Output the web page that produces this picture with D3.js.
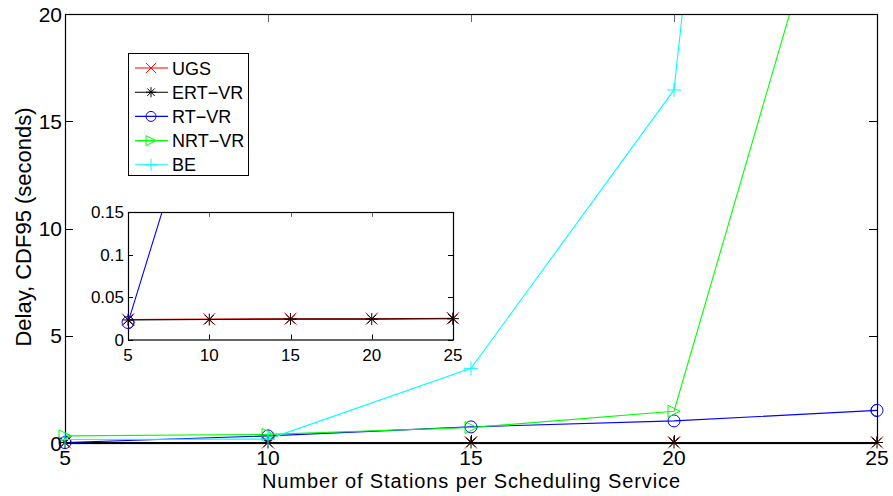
<!DOCTYPE html>
<html>
<head>
<meta charset="utf-8">
<script src="https://cdn.jsdelivr.net/npm/d3@7"></script>
<style>
  html, body { margin: 0; padding: 0; background: #fff; }
  svg { display: block; font-family: "Liberation Sans", Arial, Helvetica, sans-serif; }
</style>
</head>
<body>
<svg id="chart" width="893" height="496"></svg>
<script>
// Stations per scheduling service
const stations = [5, 10, 15, 20, 25];

// 95th percentile delay (seconds) per service class
const ugs   = [0.0235, 0.024, 0.0245, 0.0245, 0.025];
const ertvr = [0.0230, 0.0235, 0.024, 0.024, 0.0245];
const rtvr  = [0.020, 0.33, 0.75, 1.03, 1.52];
const nrtvr = [0.33, 0.40, 0.72, 1.48, 34];
const be    = [0.16, 0.18, 3.48, 16.46, 103];

const seriesNames = ["UGS", "ERT-VR", "RT-VR", "NRT-VR", "BE"];
const seriesValues = [ugs, ertvr, rtvr, nrtvr, be];
const seriesColors = ["#ff0000", "#000000", "#0000ff", "#00ff00", "#00ffff"];
const seriesMarkers = ["x", "star", "circle", "triangle", "plus"];

const mainYTicks = [0, 5, 10, 15, 20];
const insetYTicks = [0, 0.05, 0.1, 0.15];
const insetSeries = [0, 1, 2]; // classes shown in the zoomed panel

const svg = d3.select("#chart");

function drawMarker(g, type, x, y, color, s) {
  if (type === "circle") {
    g.append("circle").attr("cx", x).attr("cy", y).attr("r", s)
      .attr("fill", "none").attr("stroke", color).attr("stroke-width", 1);
    return;
  }
  let d = "";
  if (type === "x") {
    d = `M${x-s},${y-s}L${x+s},${y+s}M${x-s},${y+s}L${x+s},${y-s}`;
  } else if (type === "plus") {
    d = `M${x-s-1},${y}L${x+s+1},${y}M${x},${y-s-1}L${x},${y+s+1}`;
  } else if (type === "star") {
    const t = s * 0.75;
    d = `M${x-s},${y}L${x+s},${y}M${x},${y-s}L${x},${y+s}M${x-t},${y-t}L${x+t},${y+t}M${x-t},${y+t}L${x+t},${y-t}`;
  } else if (type === "triangle") {
    d = `M${x-s},${y-s}L${x+s},${y}L${x-s},${y+s}Z`;
  }
  g.append("path").attr("d", d).attr("fill", "none").attr("stroke", color).attr("stroke-width", 1);
}

function drawPanel(opts) {
  const { left, top, width, height, xDomain, yDomain, yTicks, xTicks, fontSize, tickLen,
          indices, markerSize, id, xLabelDy, yLabelDx } = opts;
  const x = d3.scaleLinear().domain(xDomain).range([left, left + width]);
  const y = d3.scaleLinear().domain(yDomain).range([top + height, top]);

  const g = svg.append("g");
  g.append("rect").attr("x", left).attr("y", top).attr("width", width).attr("height", height)
    .attr("fill", "#fff");

  g.append("clipPath").attr("id", id).append("rect")
    .attr("x", left).attr("y", top).attr("width", width).attr("height", height);

  // ticks on all four sides, pointing inward
  const tg = g.append("g").attr("stroke", "#000").attr("stroke-width", 1);
  xTicks.forEach(v => {
    const px = Math.round(x(v)) + 0.5;
    tg.append("line").attr("x1", px).attr("x2", px).attr("y1", top + height).attr("y2", top + height - tickLen);
    tg.append("line").attr("x1", px).attr("x2", px).attr("y1", top).attr("y2", top + tickLen).attr("stroke", "#666");
  });
  yTicks.forEach(v => {
    const py = Math.round(y(v)) + 0.5;
    tg.append("line").attr("x1", left).attr("x2", left + tickLen).attr("y1", py).attr("y2", py);
    tg.append("line").attr("x1", left + width).attr("x2", left + width - tickLen).attr("y1", py).attr("y2", py);
  });

  // data lines and markers
  const plot = g.append("g").attr("clip-path", `url(#${id})`);
  const line = d3.line().x((d, i) => x(stations[i])).y(d => y(d));
  indices.forEach(k => {
    plot.append("path").datum(seriesValues[k]).attr("d", line)
      .attr("fill", "none").attr("stroke", seriesColors[k]).attr("stroke-width", 1.1);
  });
  indices.forEach(k => {
    seriesValues[k].forEach((v, i) => {
      const px = x(stations[i]), py = y(v);
      if (py >= top - 1 && py <= top + height + 1) drawMarker(plot, seriesMarkers[k], px, py, seriesColors[k], markerSize);
    });
  });
  g.append("rect").attr("x", left + 0.5).attr("y", top + 0.5).attr("width", width).attr("height", height)
    .attr("fill", "none").attr("stroke", "#000").attr("stroke-width", 1.2);
  // markers sitting on the frame are drawn whole, over the border
  indices.forEach(k => {
    seriesValues[k].forEach((v, i) => {
      const px = x(stations[i]), py = y(v);
      const onEdge = i === 0 || i === stations.length - 1 || py > top + height - markerSize;
      if (onEdge && py >= top - 1 && py <= top + height + 1) drawMarker(g, seriesMarkers[k], px, py, seriesColors[k], markerSize);
    });
  });

  // tick labels
  const lg = g.append("g").attr("font-size", fontSize).attr("fill", "#000");
  xTicks.forEach(v => {
    lg.append("text").attr("x", x(v)).attr("y", top + height + xLabelDy)
      .attr("text-anchor", "middle").text(v);
  });
  yTicks.forEach(v => {
    lg.append("text").attr("x", left - yLabelDx).attr("y", y(v) + fontSize * 0.36)
      .attr("text-anchor", "end").text(v);
  });
  return { x, y };
}

// main panel
drawPanel({
  id: "clipMain", left: 65, top: 14, width: 812, height: 429,
  xDomain: [5, 25], yDomain: [0, 20], xTicks: stations, yTicks: mainYTicks,
  fontSize: 21, tickLen: 8, indices: [0, 1, 2, 3, 4], markerSize: 6,
  xLabelDy: 22, yLabelDx: 3
});

// axis titles
svg.append("text").attr("x", 471).attr("y", 487.5).attr("text-anchor", "middle")
  .attr("font-size", 20).attr("textLength", 418).attr("lengthAdjust", "spacing")
  .text("Number of Stations per Scheduling Service");
svg.append("text").attr("transform", "translate(31,227) rotate(-90)").attr("text-anchor", "middle")
  .attr("font-size", 22).text("Delay, CDF95 (seconds)");

// legend
const lgX = 128, lgY = 53;
const legend = svg.append("g");
legend.append("rect").attr("x", lgX + 0.5).attr("y", lgY + 0.5).attr("width", 120).attr("height", 122)
  .attr("fill", "#fff").attr("stroke", "#000").attr("stroke-width", 1);
seriesNames.forEach((name, k) => {
  const cy = lgY + 15 + k * 24.2;
  legend.append("line").attr("x1", lgX + 7).attr("x2", lgX + 40).attr("y1", cy).attr("y2", cy)
    .attr("stroke", seriesColors[k]).attr("stroke-width", 1.1);
  drawMarker(legend, seriesMarkers[k], lgX + 23, cy, seriesColors[k], 5);
  legend.append("text").attr("x", lgX + 44).attr("y", cy + 6.5).attr("font-size", 18).text(name.replace("-", "\u2212"));
});

// zoomed panel
drawPanel({
  id: "clipInset", left: 128, top: 212, width: 325, height: 127.5,
  xDomain: [5, 25], yDomain: [0, 0.15], xTicks: stations, yTicks: insetYTicks,
  fontSize: 17, tickLen: 5, indices: insetSeries, markerSize: 6,
  xLabelDy: 21, yLabelDx: 4
});
</script>
</body>
</html>
